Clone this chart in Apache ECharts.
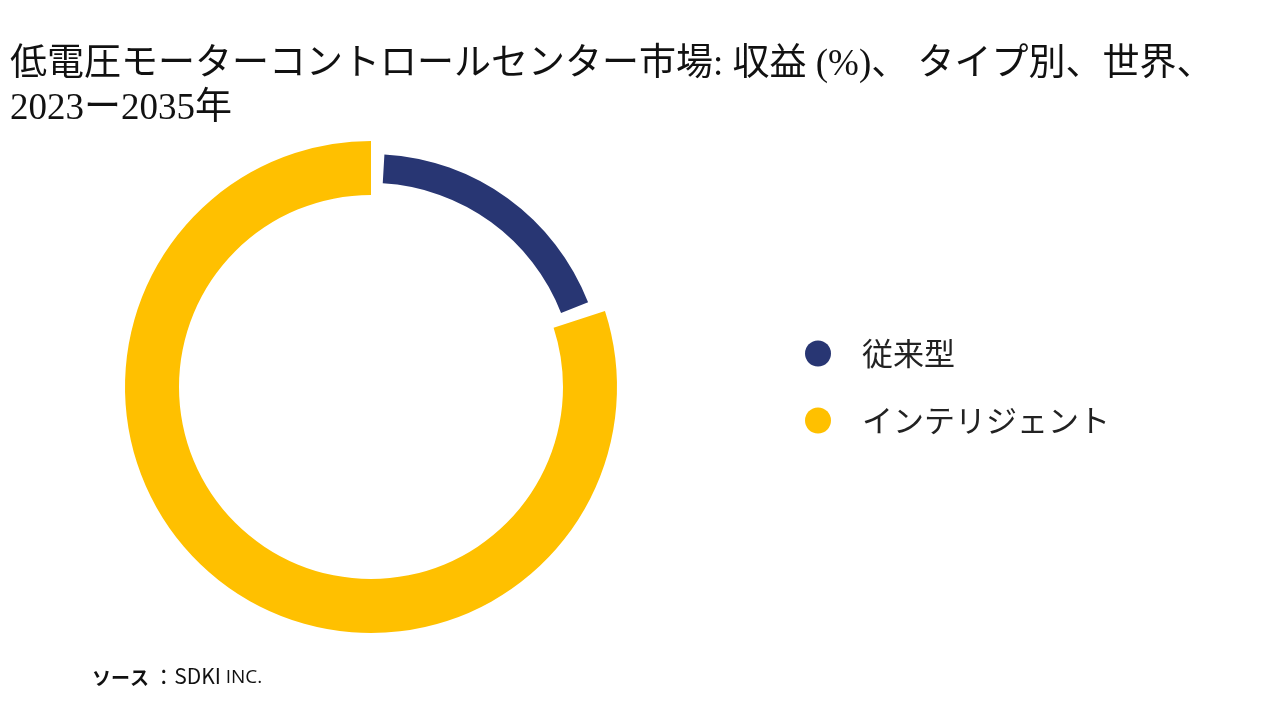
<!DOCTYPE html>
<html>
<head>
<meta charset="utf-8">
<script src="https://cdn.jsdelivr.net/npm/echarts@6/dist/echarts.min.js"></script>
<style>
html,body{margin:0;padding:0;background:#fff;}
#chart{width:1280px;height:720px;}
</style>
</head>
<body>
<div id="chart"></div>
<script>
const categories = ['従来型', 'インテリジェント'];
const values = [20, 80];
const colors = ['#283673', '#FFC000'];
const titleText = '低電圧モーターコントロールセンター市場: 収益 (%)、 タイプ別、世界、\n2023ー2035年';

const chart = echarts.init(document.getElementById('chart'));

const outerData = categories.map((c, i) => ({
  name: c, value: values[i],
  itemStyle: { color: i === 0 ? 'rgba(0,0,0,0)' : colors[i] }
}));
const innerData = categories.map((c, i) => ({
  name: c, value: values[i],
  itemStyle: { color: i === 0 ? colors[i] : 'rgba(0,0,0,0)' }
}));

chart.setOption({
  backgroundColor: '#ffffff',
  animation: false,
  title: {
    text: titleText,
    left: 5,
    top: 38,
    textStyle: {
      fontFamily: "'Liberation Serif', 'Noto Sans CJK JP', serif",
      fontSize: 37,
      fontWeight: 'normal',
      color: '#111',
      lineHeight: 44
    }
  },
  legend: {
    orient: 'vertical',
    left: 800,
    top: 333,
    itemWidth: 26,
    itemHeight: 26,
    itemGap: 36,
    icon: 'circle',
    data: categories.map((c, i) => ({ name: c, itemStyle: { color: colors[i] } })),
    textStyle: {
      fontFamily: "'Noto Sans CJK JP', sans-serif",
      fontSize: 31,
      color: '#222',
      padding: [0, 0, 0, 26]
    }
  },
  graphic: [{
    type: 'text',
    left: 92,
    top: 666,
    style: {
      text: '{a|ソース }{b|：SDKI }{c|INC.}',
      rich: {
        a: { fontFamily: "'Noto Sans CJK JP', sans-serif", fontSize: 19, fontWeight: 'bold', fill: '#111', lineHeight: 24, verticalAlign: 'bottom' },
        b: { fontFamily: "'Noto Sans CJK JP', 'Open Sans', sans-serif", fontSize: 21, fill: '#111', lineHeight: 24, verticalAlign: 'bottom' },
        c: { fontFamily: "'Open Sans', sans-serif", fontSize: 19, fill: '#111', lineHeight: 24, verticalAlign: 'bottom' }
      }
    }
  }],
  series: [
    {
      type: 'pie',
      center: [371, 387],
      radius: [192, 246],
      startAngle: 90,
      clockwise: true,
      label: { show: false },
      labelLine: { show: false },
      silent: true,
      data: outerData
    },
    {
      type: 'pie',
      center: [371, 387],
      radius: [204, 233],
      startAngle: 90,
      clockwise: true,
      padAngle: 6.6,
      label: { show: false },
      labelLine: { show: false },
      silent: true,
      data: innerData
    }
  ]
});
</script>
</body>
</html>
